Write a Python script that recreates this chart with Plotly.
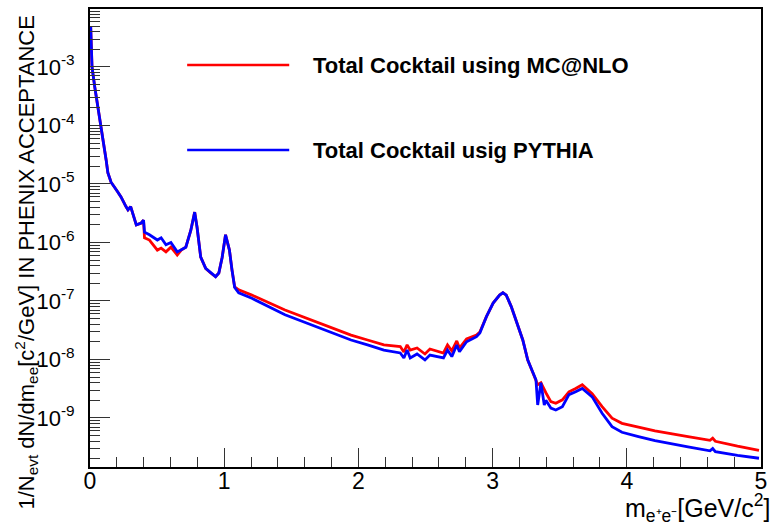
import plotly.graph_objects as go

# ---- data ----
mass = [0.005, 0.010, 0.015, 0.035, 0.059, 0.083, 0.103, 0.120, 0.133, 0.157,
        0.207, 0.231, 0.268, 0.283, 0.303, 0.320, 0.345, 0.382, 0.399, 0.406,
        0.443, 0.502, 0.530, 0.566, 0.603, 0.650, 0.680, 0.714, 0.751, 0.780,
        0.798, 0.825, 0.862, 0.899, 0.936, 0.960, 0.985, 1.010, 1.039, 1.058,
        1.078, 1.108, 1.206, 1.453, 1.699, 1.945, 2.068, 2.190, 2.312, 2.339,
        2.363, 2.386, 2.437, 2.496, 2.533, 2.585, 2.634, 2.664, 2.696, 2.733,
        2.753, 2.806, 2.880, 2.905, 2.954, 3.004, 3.052, 3.077, 3.102, 3.139,
        3.176, 3.225, 3.262, 3.299, 3.323, 3.336, 3.360, 3.385, 3.397, 3.434,
        3.471, 3.520, 3.569, 3.619, 3.668, 3.742, 3.816, 3.890, 3.964, 4.087,
        4.210, 4.456, 4.620, 4.640, 4.660, 4.825, 4.985]

mcnlo = [5.0e-3, 2.6e-3, 1.0e-3, 4.6e-4, 2.1e-4, 1.0e-4, 5.0e-5, 2.6e-5, 1.55e-5, 1.07e-5,
         7.3e-6, 6.0e-6, 4.1e-6, 3.6e-6, 4.1e-6, 2.95e-6, 2.0e-6, 2.15e-6, 2.4e-6, 1.2e-6,
         1.1e-6, 7.4e-7, 8.0e-7, 6.9e-7, 8.3e-7, 6.1e-7, 7.4e-7, 8.3e-7, 1.6e-6, 3.3e-6,
         1.8e-6, 5.6e-7, 3.6e-7, 3.0e-7, 2.6e-7, 3.0e-7, 5.6e-7, 1.35e-6, 7.4e-7, 3.4e-7,
         1.74e-7, 1.55e-7, 1.26e-7, 7.0e-8, 4.2e-8, 2.6e-8, 2.15e-8, 1.77e-8, 1.66e-8, 1.34e-8,
         1.77e-8, 1.45e-8, 1.57e-8, 1.24e-8, 1.51e-8, 1.40e-8, 1.29e-8, 1.77e-8, 1.40e-8, 2.07e-8,
         1.57e-8, 2.24e-8, 2.62e-8, 2.95e-8, 5.4e-8, 9.2e-8, 1.26e-7, 1.38e-7, 1.26e-7, 8.0e-8,
         4.5e-8, 2.15e-8, 9.8e-9, 5.9e-9, 4.5e-9, 3.7e-9, 4.0e-9, 3.0e-9, 2.7e-9, 1.9e-9,
         1.78e-9, 2.04e-9, 2.8e-9, 3.2e-9, 3.7e-9, 2.6e-9, 1.56e-9, 9.9e-10, 8.1e-10, 7.0e-10,
         6.0e-10, 4.8e-10, 4.15e-10, 4.5e-10, 4.0e-10, 3.3e-10, 2.8e-10]

pythia = [5.0e-3, 2.6e-3, 1.0e-3, 4.6e-4, 2.1e-4, 1.0e-4, 5.0e-5, 2.6e-5, 1.55e-5, 1.07e-5,
          7.3e-6, 6.0e-6, 4.1e-6, 3.6e-6, 4.1e-6, 2.95e-6, 2.0e-6, 2.15e-6, 2.4e-6, 1.5e-6,
          1.35e-6, 1.1e-6, 1.2e-6, 9.1e-7, 1.0e-6, 6.9e-7, 7.6e-7, 8.3e-7, 1.6e-6, 3.3e-6,
          1.8e-6, 5.6e-7, 3.6e-7, 3.0e-7, 2.6e-7, 3.0e-7, 5.6e-7, 1.35e-6, 7.4e-7, 3.4e-7,
          1.7e-7, 1.38e-7, 1.11e-7, 5.8e-8, 3.5e-8, 2.15e-8, 1.77e-8, 1.45e-8, 1.29e-8, 1.06e-8,
          1.45e-8, 1.06e-8, 1.24e-8, 9.8e-9, 1.19e-8, 1.12e-8, 1.06e-8, 1.45e-8, 1.12e-8, 1.77e-8,
          1.36e-8, 2.01e-8, 2.45e-8, 2.84e-8, 5.4e-8, 9.2e-8, 1.26e-7, 1.38e-7, 1.26e-7, 8.0e-8,
          4.5e-8, 2.15e-8, 9.8e-9, 5.9e-9, 4.5e-9, 1.67e-9, 4.0e-9, 1.67e-9, 2.0e-9, 1.48e-9,
          1.37e-9, 1.56e-9, 2.5e-9, 2.8e-9, 3.2e-9, 2.3e-9, 1.2e-9, 7.1e-10, 5.7e-10, 4.8e-10,
          4.1e-10, 3.2e-10, 2.75e-10, 3.0e-10, 2.65e-10, 2.3e-10, 2.05e-10]

x_tick_vals = [0, 1, 2, 3, 4, 5]
y_tick_vals = [1e-9, 1e-8, 1e-7, 1e-6, 1e-5, 1e-4, 1e-3]
y_tick_text = ["10<sup>-9</sup>", "10<sup>-8</sup>", "10<sup>-7</sup>", "10<sup>-6</sup>",
               "10<sup>-5</sup>", "10<sup>-4</sup>", "10<sup>-3</sup>"]
legend_labels = ["Total Cocktail using MC@NLO", "Total Cocktail usig PYTHIA"]

FONT = "Liberation Sans, Arial, Helvetica, sans-serif"

fig = go.Figure()
fig.add_trace(go.Scatter(x=mass, y=mcnlo, mode="lines", name=legend_labels[0],
                         line=dict(color="#ff0000", width=2.8), showlegend=False))
fig.add_trace(go.Scatter(x=mass, y=pythia, mode="lines", name=legend_labels[1],
                         line=dict(color="#0000ff", width=2.8), showlegend=False))

minor_y = [k * 10.0 ** e for e in range(-10, -1) for k in range(2, 10)]

fig.update_layout(
    width=774, height=525,
    margin=dict(l=90, r=7, t=9, b=58),
    paper_bgcolor="white", plot_bgcolor="white",
    font=dict(family=FONT, color="black"),
    showlegend=False,
    xaxis=dict(range=[0, 5], tickmode="array", tickvals=x_tick_vals,
               ticks="inside", ticklen=19, tickwidth=1, tickcolor="#333",
               minor=dict(dtick=0.2, ticks="inside", ticklen=10, tickwidth=1,
                          tickcolor="#333", showgrid=False),
               showline=True, linecolor="black", linewidth=2, mirror=True,
               showgrid=False, zeroline=False, ticklabelstandoff=-8,
               tickfont=dict(size=23, family=FONT)),
    yaxis=dict(type="log", range=[-9.838, -2.01], tickmode="array",
               tickvals=y_tick_vals, ticktext=y_tick_text,
               ticks="inside", ticklen=20, tickwidth=1, tickcolor="#333",
               minor=dict(tickmode="array", tickvals=minor_y, ticks="inside",
                          ticklen=10, tickwidth=1, tickcolor="#333", showgrid=False),
               showline=True, linecolor="black", linewidth=2, mirror=True,
               showgrid=False, zeroline=False, ticklabelstandoff=9,
               tickfont=dict(size=22, family=FONT)),
)

# axis titles
fig.add_annotation(xref="paper", yref="paper", x=-0.0945, y=0.4476,
                   text="1/N<sub>evt</sub> dN/dm<sub>ee</sub>[c<sup>2</sup>/GeV] IN PHENIX ACCEPTANCE",
                   textangle=-90, showarrow=False, xanchor="center", yanchor="middle",
                   font=dict(size=22, family=FONT))
fig.add_annotation(xref="paper", yref="paper", x=1.017, y=-0.090,
                   text="m<sub>e⁺e⁻</sub>[GeV/c<sup>2</sup>]",
                   showarrow=False, xanchor="right", yanchor="middle",
                   font=dict(size=25, family=FONT))

# legend (drawn manually as in the reference)
leg_colors = ["#ff0000", "#0000ff"]
leg_y = [0.8777, 0.6921]
for lab, col, yy in zip(legend_labels, leg_colors, leg_y):
    fig.add_shape(type="line", xref="paper", yref="paper", x0=0.1448, x1=0.2969,
                  y0=yy, y1=yy, line=dict(color=col, width=2.6))
    fig.add_annotation(xref="paper", yref="paper", x=0.3294, y=yy, text="<b>" + lab + "</b>",
                       showarrow=False, xanchor="left", yanchor="middle",
                       font=dict(size=22, family=FONT))

fig.write_html("out.html")
